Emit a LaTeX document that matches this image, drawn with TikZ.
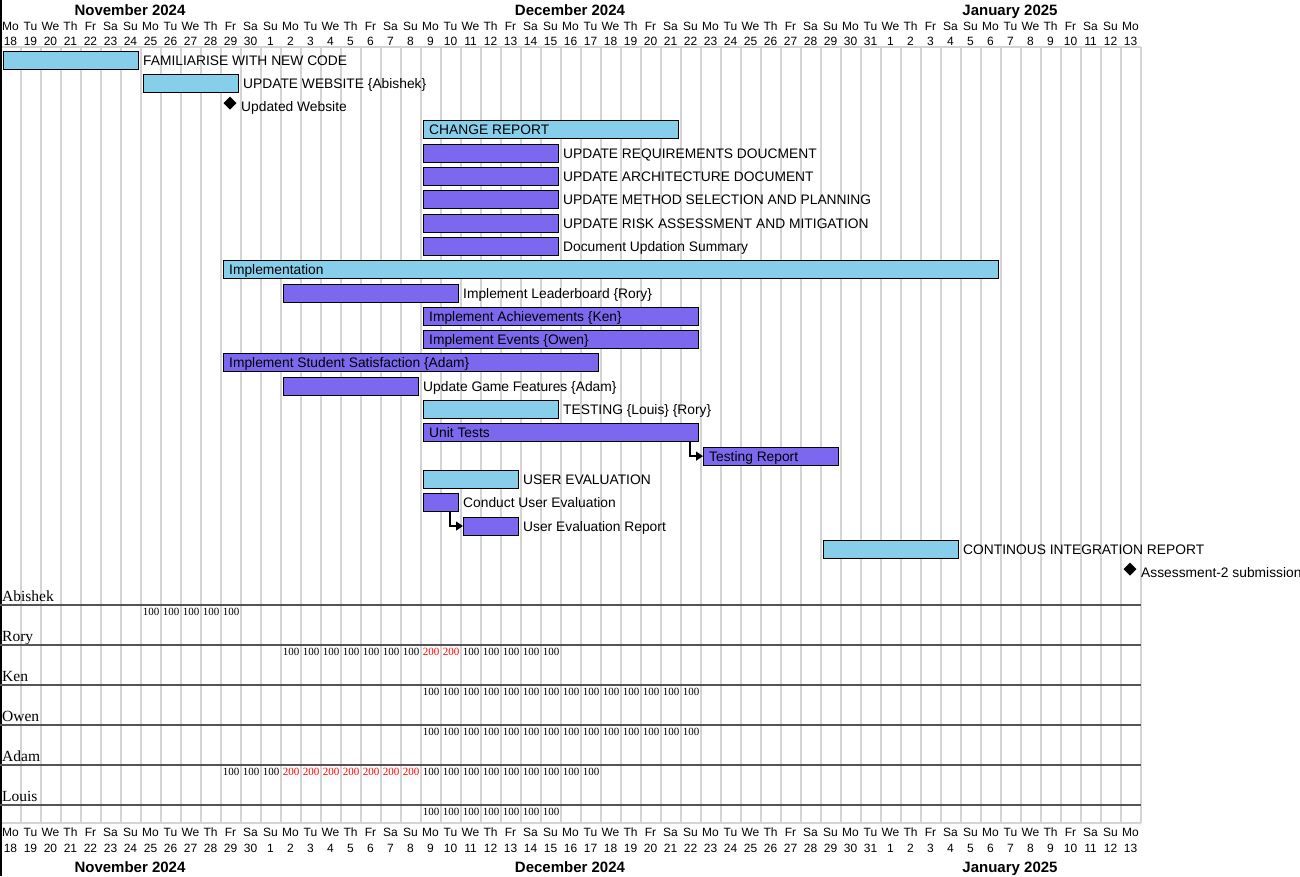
\documentclass[tikz,border=0pt]{standalone}
\usepackage{fontspec}
\setmainfont{Liberation Sans}
\newfontfamily\tnr{Liberation Serif}
\usetikzlibrary{arrows.meta,shapes.geometric}
\definecolor{skyb}{HTML}{87CEEB}
\definecolor{slate}{HTML}{7B68EE}
\definecolor{gridc}{RGB}{212,212,212}
\definecolor{resl}{RGB}{85,85,85}
\definecolor{loadred}{RGB}{255,0,0}
\newcommand\gdayname[1]{\ifcase#1 Mo\or Tu\or We\or Th\or Fr\or Sa\or Su\fi}
\newcommand\gcalc[3]{%
  \pgfmathsetmacro\gxa{20*#1+3}%
  \pgfmathsetmacro\gxb{20*(#2+1)-2}%
  \pgfmathsetmacro\gyc{60+23.3*#3}%
  \pgfmathsetmacro\gw{\gxb-\gxa}}
% name, start, end, row, style, text  (label outside)
\newcommand\gtask[6]{%
  \gcalc{#2}{#3}{#4}%
  \node[#5, minimum width=\gw pt, anchor=west] (#1) at (\gxa,\gyc) {};%
  \node[lbl] (#1-t) at (\gxb+5,\gyc+5) {#6};}
% label inside
\newcommand\gtaskin[6]{%
  \gcalc{#2}{#3}{#4}%
  \node[#5, minimum width=\gw pt, anchor=west] (#1) at (\gxa,\gyc) {};%
  \node[lbl] (#1-t) at (\gxa+6,\gyc+5) {#6};}
% name, day, row, text
\newcommand\gmile[4]{%
  \pgfmathsetmacro\gyc{60+23.3*#3}%
  \node[ms] (#1) at (20*#2+10,\gyc-3.5) {};%
  \node[lbl] (#1-t) at (20*#2+21,\gyc+5) {#4};}
% row, from, to, value, style
\newcommand\gloads[5]{%
  \foreach \d in {#2,...,#3}{\node[num,#5] (ld-#1-\d) at (20*\d+11,615+40*#1) {#4};}}
\begin{document}
\begin{tikzpicture}[x=1pt,y=-1pt,
  bar/.style={draw=black,line width=0.9pt,rectangle,inner sep=0pt,outer sep=0pt,minimum height=18pt},
  sky/.style={bar,fill=skyb},
  pur/.style={bar,fill=slate},
  lbl/.style={anchor=base west,inner sep=0pt,font=\fontsize{13.8}{16}\selectfont},
  ms/.style={diamond,fill=black,draw=none,inner sep=0pt,minimum width=13pt,minimum height=13pt},
  hdr/.style={anchor=base,inner sep=0pt,font=\fontsize{12}{14}\selectfont},
  mon/.style={anchor=base,inner sep=0pt,font=\bfseries\fontsize{15}{17}\selectfont},
  gridl/.style={draw=gridc,line width=2pt},
  resline/.style={draw=resl,line width=1.8pt},
  rname/.style={anchor=base west,inner sep=0pt,font=\tnr\fontsize{15.5}{18}\selectfont},
  num/.style={anchor=base,inner sep=0pt,font=\tnr\fontsize{11}{13}\selectfont},
  red/.style={text=loadred},
  dep/.style={draw=black,line width=1.3pt,-{Triangle[length=7pt,width=9pt]}}]
\useasboundingbox (0,0) rectangle (1300,876);
\fill[white] (0,0) rectangle (1300,876);
% grid
\foreach \k in {1,...,57}{\draw[gridl] (20*\k+0.5,47) -- (20*\k+0.5,823);}
\draw[gridl] (0,47) -- (1141,47);
\draw[gridl] (0,823) -- (1141,823);
\draw[black,line width=1.5pt] (0.75,0) -- (0.75,876);
% headers
\foreach \d in {0,...,56}{%
  \pgfmathtruncatemacro\dw{mod(\d,7)}%
  \pgfmathtruncatemacro\dnum{\d<13 ? 18+\d : (\d<44 ? \d-12 : \d-43)}%
  \node[hdr] (td-\d) at (20*\d+10.5,30) {\gdayname{\dw}};
  \node[hdr] (tn-\d) at (20*\d+10.5,45) {\dnum};
  \node[hdr] (bd-\d) at (20*\d+10.5,836.5) {\gdayname{\dw}};
  \node[hdr] (bn-\d) at (20*\d+10.5,852) {\dnum};
}
\node[mon] (tm-nov) at (130,15) {November 2024};
\node[mon] (tm-dec) at (570,15) {December 2024};
\node[mon] (tm-jan) at (1010,15) {January 2025};
\node[mon] (bm-nov) at (130,872.5) {November 2024};
\node[mon] (bm-dec) at (570,872.5) {December 2024};
\node[mon] (bm-jan) at (1010,872.5) {January 2025};
% tasks
\gtask{fam}{0}{6}{0}{sky}{FAMILIARISE WITH NEW CODE}
\gtask{web}{7}{11}{1}{sky}{UPDATE WEBSITE \{Abishek\}}
\gmile{m1}{11}{2}{Updated Website}
\gtaskin{chg}{21}{33}{3}{sky}{CHANGE REPORT}
\gtask{req}{21}{27}{4}{pur}{UPDATE REQUIREMENTS DOUCMENT}
\gtask{arch}{21}{27}{5}{pur}{UPDATE ARCHITECTURE DOCUMENT}
\gtask{msp}{21}{27}{6}{pur}{UPDATE METHOD SELECTION AND PLANNING}
\gtask{risk}{21}{27}{7}{pur}{UPDATE RISK ASSESSMENT AND MITIGATION}
\gtask{dus}{21}{27}{8}{pur}{Document Updation Summary}
\gtaskin{impl}{11}{49}{9}{sky}{Implementation}
\gtask{lead}{14}{22}{10}{pur}{Implement Leaderboard \{Rory\}}
\gtaskin{ach}{21}{34}{11}{pur}{Implement Achievements \{Ken\}}
\gtaskin{evt}{21}{34}{12}{pur}{Implement Events \{Owen\}}
\gtaskin{sat}{11}{29}{13}{pur}{Implement Student Satisfaction \{Adam\}}
\gtask{ugf}{14}{20}{14}{pur}{Update Game Features \{Adam\}}
\gtask{test}{21}{27}{15}{sky}{TESTING \{Louis\} \{Rory\}}
\gtaskin{ut}{21}{34}{16}{pur}{Unit Tests}
\gtaskin{tr}{35}{41}{17}{pur}{Testing Report}
\gtask{ue}{21}{25}{18}{sky}{USER EVALUATION}
\gtask{cue}{21}{22}{19}{pur}{Conduct User Evaluation}
\gtask{uer}{23}{25}{20}{pur}{User Evaluation Report}
\gtask{ci}{41}{47}{21}{sky}{CONTINOUS INTEGRATION REPORT}
\gmile{m2}{56}{22}{Assessment-2 submission}
% dependencies
\draw[dep] ([xshift=-8pt]ut.south east) |- (tr.west);
\draw[dep] ([xshift=-8pt]cue.south east) |- (uer.west);
% resources
\foreach \i/\n in {0/Abishek,1/Rory,2/Ken,3/Owen,4/Adam,5/Louis}{%
  \node[rname] (rn-\i) at (2,601+40*\i) {\n};
  \draw[resline] (0,604.7+40*\i) -- (1141,604.7+40*\i);
}
\gloads{0}{7}{11}{100}{}
\gloads{1}{14}{20}{100}{}
\gloads{1}{21}{22}{200}{red}
\gloads{1}{23}{27}{100}{}
\gloads{2}{21}{34}{100}{}
\gloads{3}{21}{34}{100}{}
\gloads{4}{11}{13}{100}{}
\gloads{4}{14}{20}{200}{red}
\gloads{4}{21}{29}{100}{}
\gloads{5}{21}{27}{100}{}
\end{tikzpicture}
\end{document}
